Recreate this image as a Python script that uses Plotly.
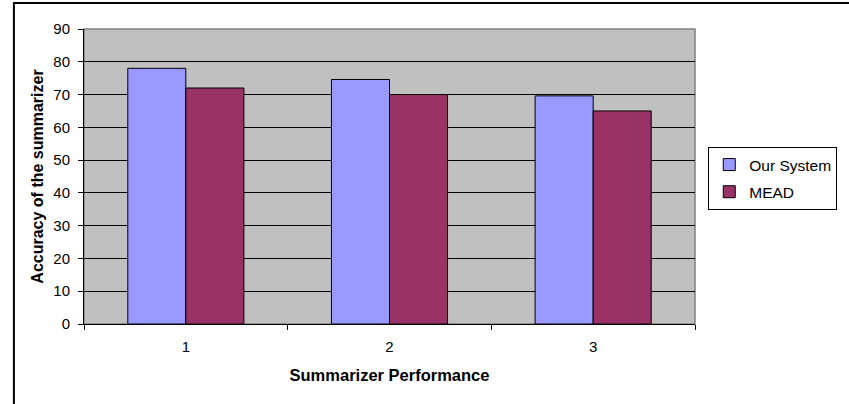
import plotly.graph_objects as go

categories = ["1", "2", "3"]
our_system = [78, 74.6, 69.6]
mead = [72, 70, 65]
y_ticks = [0, 10, 20, 30, 40, 50, 60, 70, 80, 90]

FONT = "Liberation Sans, Arial, sans-serif"

fig = go.Figure()
fig.add_trace(go.Bar(
    x=categories, y=our_system, name="Our System",
    marker=dict(color="#9999FF", line=dict(color="black", width=1)),
    legendgroup="a",
))
fig.add_trace(go.Bar(
    x=categories, y=mead, name="MEAD",
    marker=dict(color="#993366", line=dict(color="black", width=1)),
    legendgroup="b",
))

fig.update_layout(
    width=849, height=404,
    margin=dict(l=84, r=120, t=29, b=80, pad=0),
    paper_bgcolor="white",
    plot_bgcolor="#C0C0C0",
    font=dict(family=FONT, size=15, color="black"),
    barmode="group",
    bargap=0.43,
    bargroupgap=0,
    showlegend=True,
    legend=dict(
        x=1.0217, xanchor="left", y=0.60, yanchor="top",
        bordercolor="black", borderwidth=1, bgcolor="white",
        font=dict(family=FONT, size=15.5, color="black"),
        tracegroupgap=4, itemwidth=30,
    ),
    xaxis=dict(
        type="category",
        showgrid=False,
        showline=True, linecolor="black", linewidth=1,
        ticks="outside", tickson="boundaries", ticklen=5, tickcolor="black",
        ticklabelstandoff=9,
        title=dict(text="<b>Summarizer Performance</b>", font=dict(family=FONT, size=16.5), standoff=15),
    ),
    yaxis=dict(
        range=[0, 90],
        tickvals=y_ticks,
        showgrid=True, gridcolor="black", gridwidth=1,
        zeroline=False,
        showline=True, linecolor="black", linewidth=1,
        ticks="outside", ticklen=5, tickcolor="black",
        ticklabelstandoff=5,
        title=dict(text="<b>Accuracy of the summarizer</b>", font=dict(family=FONT, size=16), standoff=5),
    ),
    shapes=[
        # plot-area border (gray, top and right)
        dict(type="rect", xref="paper", yref="paper", x0=0, x1=1, y0=0, y1=1,
             line=dict(color="#808080", width=1.5), layer="below"),
        # outer chart border
        dict(type="rect", xref="paper", yref="paper", x0=-0.1147, x1=1.5, y0=-0.5, y1=1.088,
             line=dict(color="black", width=2)),
    ],
)

fig.write_html(
    "out.html",
    config={"displayModeBar": False},
    post_script="document.body.style.margin='0';document.body.style.overflow='hidden';",
)
